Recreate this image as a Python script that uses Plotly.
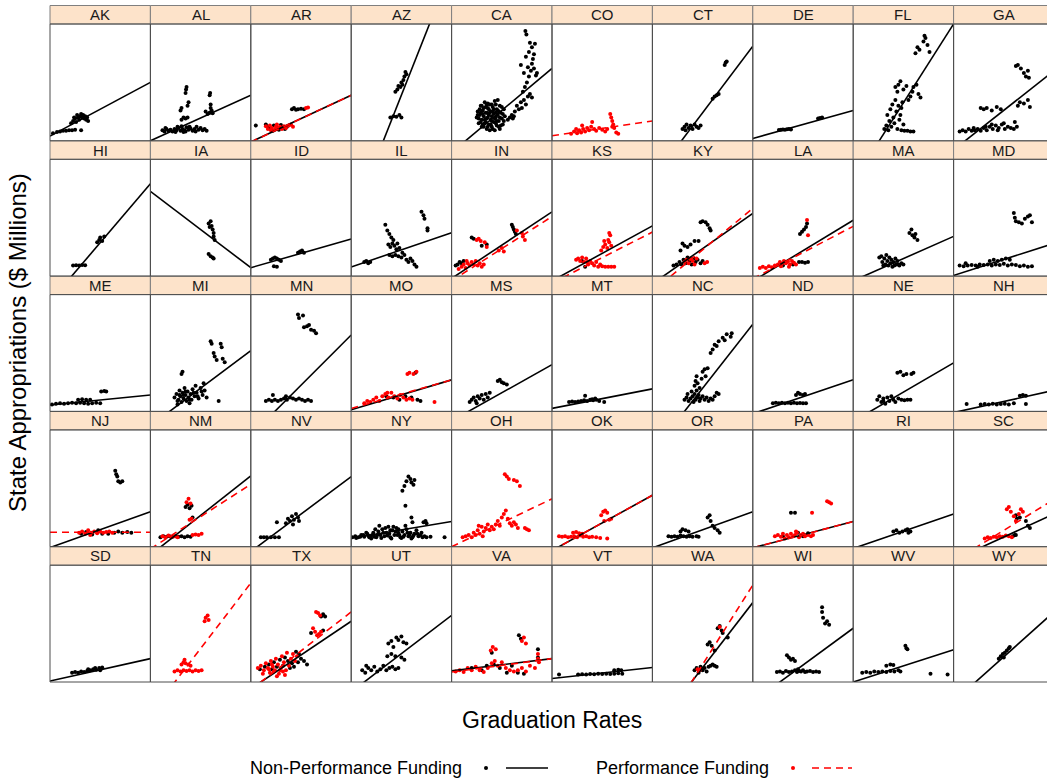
import plotly.graph_objects as go

# ---------------- DATA (normalised panel coordinates) ----------------
states = ["AK","AL","AR","AZ","CA","CO","CT","DE","FL","GA",
          "HI","IA","ID","IL","IN","KS","KY","LA","MA","MD",
          "ME","MI","MN","MO","MS","MT","NC","ND","NE","NH",
          "NJ","NM","NV","NY","OH","OK","OR","PA","RI","SC",
          "SD","TN","TX","UT","VA","VT","WA","WI","WV","WY"]

# fitted lines: (value at left edge, value at right edge) of each panel
black_lines = {
    "AK": (0.04, 0.50), "AL": (0.0, 0.39), "AR": (-0.01, 0.39), "AZ": (-0.696, 1.478),
    "CA": (-0.10, 0.62), "CT": (-0.33, 0.81), "DE": (0.02, 0.26), "FL": (-0.35, 1.0),
    "GA": (-0.078, 0.60), "HI": (-0.218, 0.79), "IA": (0.726, 0.072), "ID": (0.072, 0.317),
    "IL": (0.078, 0.372), "IN": (-0.02, 0.55), "KS": (-0.041, 0.43), "KY": (-0.066, 0.536),
    "LA": (-0.043, 0.478), "MA": (-0.04, 0.34), "MD": (0.006, 0.28), "ME": (0.055, 0.14),
    "MI": (-0.123, 0.52), "MN": (-0.206, 0.654), "MO": (0.014, 0.27), "MS": (-0.081, 0.40),
    "MT": (0.026, 0.193), "NC": (-0.35, 0.746), "ND": (-0.02, 0.27), "NE": (-0.085, 0.415),
    "NH": (-0.01, 0.18), "NJ": (-0.0075, 0.30), "NM": (-0.071, 0.606), "NV": (-0.042, 0.60),
    "NY": (0.072, 0.216), "OK": (-0.033, 0.44), "OR": (-0.01, 0.30), "PA": (-0.01, 0.215),
    "RI": (-0.015, 0.28), "SC": (-0.114, 0.28), "SD": (0.009, 0.20), "TX": (-0.058, 0.52),
    "UT": (-0.085, 0.57), "VA": (0.095, 0.20), "VT": (0.03, 0.124), "WA": (-0.434, 0.68),
    "WI": (-0.17, 0.46), "WV": (0.0, 0.277), "WY": (-0.168, 0.60),
}
red_lines = {
    "AR": (-0.01, 0.39), "CO": (0.043, 0.17), "IN": (-0.04, 0.51), "KS": (-0.06, 0.377),
    "KY": (-0.13, 0.58), "LA": (-0.022, 0.426), "MO": (0.025, 0.27), "NJ": (0.124, 0.124),
    "NM": (-0.019, 0.534), "OH": (0.0, 0.41), "OK": (-0.033, 0.44), "PA": (-0.01, 0.215),
    "SC": (-0.125, 0.405), "TN": (-0.273, 0.847), "TX": (-0.067, 0.60), "VA": (0.085, 0.20),
    "WA": (-0.53, 0.83),
}

black_points = {
    "AK": [(0.03,0.065),(0.07,0.075),(0.1,0.08),(0.13,0.085),(0.16,0.085),(0.19,0.09),(0.22,0.09),(0.25,0.095),(0.31,0.09),
           (0.21,0.15),(0.23,0.17),(0.25,0.19),(0.26,0.16),(0.28,0.2),(0.29,0.18),(0.3,0.21),(0.31,0.23),(0.32,0.2),(0.33,0.22),
           (0.34,0.19),(0.35,0.21),(0.36,0.18),(0.37,0.2),(0.38,0.17),(0.27,0.22),(0.24,0.2)],
    "AL": [(0.12,0.09),(0.14,0.08),(0.16,0.1),(0.18,0.085),(0.2,0.095),(0.22,0.08),(0.24,0.1),(0.26,0.09),(0.28,0.11),(0.3,0.085),
           (0.32,0.1),(0.34,0.09),(0.36,0.115),(0.38,0.095),(0.4,0.105),(0.42,0.085),(0.44,0.1),(0.46,0.12),(0.48,0.095),(0.5,0.11),
           (0.52,0.09),(0.54,0.1),(0.56,0.085),(0.15,0.11),(0.25,0.075),(0.35,0.08),(0.45,0.08),(0.27,0.12),(0.39,0.12),(0.31,0.125),
           (0.33,0.075),(0.31,0.18),(0.33,0.2),(0.35,0.19),(0.37,0.2),(0.3,0.26),(0.31,0.28),(0.37,0.3),(0.38,0.33),(0.35,0.41),
           (0.355,0.44),(0.36,0.46),(0.55,0.25),(0.57,0.23),(0.59,0.24),(0.61,0.26),(0.6,0.28),(0.6,0.31),(0.59,0.39),(0.595,0.41),(0.62,0.235)],
    "AR": [(0.05,0.13),(0.15,0.14),(0.18,0.12),(0.2,0.1),(0.23,0.13),(0.26,0.11),(0.3,0.135),(0.34,0.1),(0.22,0.085),(0.28,0.095),
           (0.41,0.27),(0.43,0.28),(0.45,0.265),(0.47,0.27),(0.5,0.275),(0.53,0.27),(0.36,0.12)],
    "AZ": [(0.39,0.2),(0.42,0.21),(0.45,0.205),(0.48,0.22),(0.5,0.2),(0.44,0.42),(0.46,0.44),(0.47,0.47),(0.49,0.46),(0.5,0.5),
           (0.52,0.52),(0.53,0.55),(0.55,0.57),(0.54,0.59),(0.51,0.48)],
    "CA": [(0.25,0.2),(0.26,0.25),(0.27,0.15),(0.28,0.22),(0.29,0.3),(0.3,0.18),(0.3,0.12),(0.31,0.26),(0.32,0.21),(0.33,0.15),
           (0.33,0.33),(0.34,0.24),(0.35,0.1),(0.35,0.19),(0.36,0.28),(0.37,0.22),(0.37,0.14),(0.38,0.31),(0.39,0.18),(0.39,0.25),
           (0.4,0.12),(0.4,0.21),(0.41,0.29),(0.42,0.16),(0.42,0.23),(0.43,0.09),(0.43,0.34),(0.44,0.2),(0.45,0.27),(0.45,0.13),
           (0.46,0.22),(0.47,0.17),(0.48,0.3),(0.48,0.1),(0.49,0.24),(0.5,0.19),(0.51,0.14),(0.52,0.27),(0.53,0.21),(0.28,0.27),
           (0.32,0.12),(0.36,0.32),(0.41,0.1),(0.44,0.31),(0.47,0.25),(0.29,0.16),(0.34,0.29),(0.38,0.09),(0.46,0.35),(0.5,0.29),
           (0.27,0.19),(0.31,0.23),(0.35,0.24),(0.39,0.14),(0.43,0.19),(0.37,0.27),(0.33,0.18),(0.41,0.25),(0.45,0.17),(0.49,0.13),
           (0.26,0.22),(0.29,0.24),(0.32,0.28),(0.34,0.16),(0.36,0.2),(0.38,0.24),(0.4,0.17),(0.42,0.27),(0.44,0.15),(0.46,0.26),
           (0.48,0.2),(0.3,0.3),(0.35,0.31),(0.4,0.31),(0.44,0.24),(0.31,0.14),(0.36,0.12),(0.47,0.12),(0.52,0.17),(0.51,0.23),
           (0.56,0.18),(0.58,0.2),(0.6,0.22),(0.61,0.19),(0.62,0.21),
           (0.63,0.25),(0.65,0.3),(0.67,0.27),(0.69,0.33),(0.7,0.28),(0.72,0.35),(0.74,0.31),(0.76,0.38),(0.78,0.4),(0.8,0.37),
           (0.71,0.42),(0.73,0.46),(0.75,0.5),(0.77,0.55),(0.79,0.6),(0.72,0.58),(0.76,0.63),(0.8,0.66),(0.82,0.62),(0.84,0.56),
           (0.74,0.72),(0.77,0.76),(0.8,0.8),(0.82,0.74),(0.83,0.83),(0.78,0.84),(0.81,0.7),(0.735,0.94),(0.745,0.91),(0.85,0.58),(0.69,0.65)],
    "CT": [(0.3,0.1),(0.32,0.12),(0.34,0.14),(0.36,0.11),(0.38,0.13),(0.4,0.1),(0.42,0.14),(0.44,0.12),(0.46,0.11),(0.48,0.13),
           (0.33,0.09),(0.6,0.36),(0.62,0.38),(0.64,0.39),(0.66,0.4),(0.72,0.65),(0.73,0.67),(0.74,0.68)],
    "DE": [(0.26,0.093),(0.28,0.095),(0.3,0.097),(0.32,0.095),(0.34,0.098),(0.36,0.1),(0.38,0.097),(0.65,0.19),(0.67,0.195),(0.69,0.2)],
    "FL": [(0.31,0.1),(0.33,0.13),(0.35,0.09),(0.36,0.17),(0.38,0.12),(0.4,0.2),(0.41,0.15),(0.43,0.25),(0.44,0.1),(0.45,0.3),
           (0.46,0.18),(0.47,0.22),(0.48,0.28),(0.49,0.33),(0.5,0.14),(0.34,0.22),(0.37,0.27),(0.39,0.31),(0.42,0.35),(0.44,0.42),
           (0.42,0.46),(0.45,0.48),(0.47,0.51),(0.5,0.44),(0.53,0.47),(0.57,0.38),(0.59,0.42),(0.6,0.46),(0.63,0.48),(0.65,0.4),
           (0.67,0.37),(0.55,0.35),(0.62,0.75),(0.64,0.8),(0.66,0.78),(0.7,0.85),(0.72,0.88),(0.74,0.82),(0.76,0.76),(0.71,0.9),
           (0.48,0.09),(0.51,0.085),(0.54,0.085),(0.57,0.08),(0.6,0.08)],
    "GA": [(0.06,0.08),(0.09,0.09),(0.12,0.08),(0.15,0.1),(0.18,0.085),(0.21,0.09),(0.24,0.1),(0.27,0.085),(0.3,0.11),(0.33,0.09),
           (0.36,0.12),(0.39,0.1),(0.42,0.13),(0.45,0.11),(0.48,0.14),(0.51,0.1),(0.54,0.12),(0.57,0.11),(0.6,0.1),(0.63,0.12),
           (0.2,0.11),(0.32,0.12),(0.44,0.09),(0.38,0.14),(0.5,0.15),(0.27,0.28),(0.3,0.27),(0.33,0.28),(0.38,0.26),(0.43,0.29),
           (0.47,0.27),(0.64,0.3),(0.66,0.33),(0.7,0.32),(0.74,0.35),(0.76,0.29),(0.61,0.16),(0.62,0.64),(0.64,0.65),(0.67,0.62),
           (0.7,0.58),(0.72,0.55),(0.74,0.6),(0.75,0.54)],
    "HI": [(0.23,0.09),(0.26,0.092),(0.29,0.09),(0.32,0.095),(0.35,0.092),(0.47,0.29),(0.49,0.31),(0.5,0.33),(0.52,0.3),(0.54,0.34)],
    "IA": [(0.58,0.45),(0.6,0.47),(0.61,0.43),(0.62,0.4),(0.63,0.37),(0.63,0.34),(0.64,0.31),(0.59,0.42),(0.58,0.19),(0.6,0.17),
           (0.62,0.16),(0.63,0.15)],
    "ID": [(0.2,0.14),(0.22,0.15),(0.24,0.16),(0.26,0.15),(0.28,0.14),(0.3,0.13),(0.23,0.085),(0.26,0.08),(0.47,0.2),(0.49,0.21),
           (0.51,0.22),(0.53,0.2)],
    "IL": [(0.13,0.12),(0.15,0.13),(0.17,0.11),(0.19,0.12),(0.34,0.44),(0.36,0.39),(0.38,0.36),(0.4,0.33),(0.42,0.31),(0.37,0.27),
           (0.39,0.25),(0.41,0.28),(0.43,0.26),(0.45,0.23),(0.46,0.28),(0.48,0.24),(0.38,0.18),(0.41,0.17),(0.44,0.18),(0.47,0.17),
           (0.5,0.16),(0.53,0.18),(0.55,0.14),(0.57,0.12),(0.59,0.15),(0.61,0.13),(0.63,0.1),(0.65,0.08),(0.51,0.2),(0.7,0.55),
           (0.72,0.52),(0.73,0.49),(0.76,0.39),(0.76,0.41)],
    "IN": [(0.04,0.09),(0.06,0.1),(0.08,0.12),(0.1,0.11),(0.2,0.33),(0.22,0.32),(0.3,0.26),(0.35,0.27),(0.6,0.44),(0.61,0.42),
           (0.62,0.4),(0.63,0.38),(0.64,0.36),(0.12,0.13)],
    "KS": [(0.33,0.08),(0.3,0.13)],
    "KY": [(0.21,0.09),(0.24,0.1),(0.27,0.12),(0.29,0.1),(0.31,0.14),(0.33,0.11),(0.35,0.16),(0.37,0.13),(0.39,0.1),(0.41,0.15),
           (0.43,0.12),(0.45,0.14),(0.48,0.11),(0.5,0.13),(0.28,0.22),(0.3,0.28),(0.32,0.26),(0.35,0.25),(0.38,0.27),(0.42,0.3),
           (0.46,0.3),(0.48,0.46),(0.5,0.47),(0.53,0.46),(0.55,0.44),(0.57,0.41),(0.58,0.39)],
    "LA": [(0.46,0.12),(0.49,0.12),(0.52,0.115),(0.55,0.12),(0.47,0.36),(0.49,0.38),(0.51,0.4),(0.53,0.42),(0.54,0.45),(0.3,0.09),(0.4,0.1)],
    "MA": [(0.26,0.16),(0.28,0.17),(0.29,0.12),(0.31,0.15),(0.32,0.1),(0.33,0.18),(0.34,0.13),(0.35,0.09),(0.36,0.16),(0.37,0.11),
           (0.38,0.14),(0.39,0.08),(0.4,0.12),(0.42,0.15),(0.43,0.1),(0.44,0.13),(0.46,0.09),(0.48,0.11),(0.5,0.1),(0.3,0.09),
           (0.41,0.09),(0.45,0.1),(0.56,0.37),(0.58,0.4),(0.59,0.35),(0.61,0.33),(0.62,0.36),(0.64,0.31)],
    "MD": [(0.06,0.09),(0.1,0.085),(0.14,0.09),(0.18,0.095),(0.22,0.09),(0.26,0.1),(0.3,0.095),(0.34,0.1),(0.38,0.09),(0.42,0.1),
           (0.46,0.095),(0.5,0.105),(0.54,0.09),(0.58,0.1),(0.62,0.095),(0.66,0.085),(0.7,0.09),(0.74,0.08),(0.78,0.085),(0.12,0.11),
           (0.24,0.08),(0.36,0.13),(0.4,0.14),(0.44,0.13),(0.48,0.14),(0.52,0.15),(0.56,0.14),(0.6,0.54),(0.61,0.5),(0.62,0.47),
           (0.65,0.46),(0.68,0.45),(0.71,0.49),(0.74,0.51),(0.76,0.52),(0.78,0.46)],
    "ME": [(0.02,0.06),(0.06,0.065),(0.1,0.07),(0.14,0.065),(0.18,0.07),(0.22,0.075),(0.26,0.07),(0.3,0.075),(0.34,0.07),(0.38,0.065),
           (0.42,0.07),(0.46,0.075),(0.5,0.07),(0.28,0.1),(0.32,0.105),(0.36,0.1),(0.4,0.1),(0.51,0.17),(0.54,0.175),(0.56,0.17)],
    "MI": [(0.24,0.12),(0.26,0.15),(0.28,0.1),(0.29,0.18),(0.3,0.13),(0.31,0.08),(0.32,0.16),(0.33,0.11),(0.34,0.2),(0.35,0.14),
           (0.36,0.09),(0.37,0.17),(0.38,0.12),(0.4,0.15),(0.41,0.1),(0.42,0.19),(0.44,0.13),(0.45,0.22),(0.46,0.16),(0.48,0.11),
           (0.5,0.2),(0.52,0.14),(0.53,0.24),(0.54,0.18),(0.56,0.12),(0.27,0.06),(0.39,0.07),(0.31,0.32),(0.32,0.34),(0.6,0.6),
           (0.61,0.58),(0.63,0.5),(0.64,0.47),(0.66,0.44),(0.7,0.58),(0.71,0.55),(0.72,0.45),(0.74,0.42),(0.68,0.09),
           (0.27,0.09),(0.33,0.14),(0.39,0.1),(0.43,0.16),(0.47,0.13),(0.51,0.17),(0.35,0.17),(0.29,0.14)],
    "MN": [(0.15,0.09),(0.18,0.1),(0.21,0.09),(0.24,0.1),(0.27,0.09),(0.3,0.1),(0.33,0.11),(0.36,0.1),(0.39,0.12),(0.42,0.11),
           (0.45,0.1),(0.48,0.11),(0.51,0.1),(0.54,0.09),(0.57,0.1),(0.6,0.09),(0.22,0.14),(0.35,0.13),(0.47,0.83),(0.48,0.8),
           (0.52,0.82),(0.53,0.72),(0.56,0.73),(0.58,0.74),(0.6,0.7),(0.63,0.69),(0.65,0.67)],
    "MO": [(0.35,0.13),(0.42,0.12),(0.48,0.1),(0.54,0.13),(0.6,0.12),(0.66,0.1),(0.69,0.09),(0.64,0.33)],
    "MS": [(0.18,0.08),(0.2,0.1),(0.22,0.12),(0.24,0.09),(0.26,0.13),(0.28,0.11),(0.3,0.14),(0.32,0.1),(0.34,0.15),(0.36,0.12),
           (0.38,0.16),(0.25,0.07),(0.46,0.26),(0.48,0.27),(0.5,0.25),(0.52,0.24),(0.55,0.23)],
    "MT": [(0.17,0.08),(0.2,0.085),(0.23,0.08),(0.26,0.085),(0.29,0.09),(0.32,0.095),(0.35,0.09),(0.38,0.1),(0.41,0.095),(0.44,0.1),
           (0.47,0.09),(0.52,0.08),(0.33,0.135),(0.4,0.105),(0.43,0.11)],
    "NC": [(0.32,0.1),(0.34,0.12),(0.35,0.15),(0.36,0.09),(0.38,0.11),(0.39,0.17),(0.4,0.13),(0.41,0.08),(0.42,0.15),(0.43,0.1),
           (0.44,0.18),(0.45,0.12),(0.46,0.14),(0.47,0.09),(0.48,0.11),(0.5,0.13),(0.52,0.1),(0.54,0.12),(0.56,0.09),(0.58,0.11),
           (0.6,0.1),(0.62,0.13),(0.64,0.16),(0.66,0.15),(0.42,0.22),(0.43,0.26),(0.44,0.3),(0.45,0.24),(0.47,0.2),(0.49,0.28),
           (0.5,0.34),(0.52,0.36),(0.53,0.3),(0.55,0.37),(0.58,0.5),(0.6,0.53),(0.62,0.57),(0.64,0.56),(0.66,0.6),(0.7,0.63),
           (0.72,0.61),(0.74,0.66),(0.78,0.64),(0.79,0.67)],
    "ND": [(0.2,0.07),(0.23,0.075),(0.26,0.07),(0.29,0.075),(0.32,0.07),(0.35,0.075),(0.38,0.07),(0.41,0.075),(0.44,0.07),(0.47,0.072),
           (0.5,0.07),(0.53,0.07),(0.43,0.14),(0.45,0.16),(0.47,0.15),(0.5,0.14),(0.52,0.15)],
    "NE": [(0.24,0.1),(0.26,0.13),(0.28,0.08),(0.3,0.11),(0.32,0.065),(0.34,0.12),(0.36,0.09),(0.38,0.13),(0.4,0.1),(0.42,0.08),
           (0.45,0.11),(0.48,0.1),(0.51,0.095),(0.54,0.1),(0.57,0.1),(0.3,0.09),(0.44,0.33),(0.47,0.34),(0.5,0.31),(0.53,0.32),
           (0.58,0.32),(0.6,0.33)],
    "NH": [(0.13,0.063),(0.27,0.06),(0.31,0.063),(0.35,0.06),(0.39,0.065),(0.43,0.06),(0.47,0.063),(0.51,0.065),(0.55,0.06),(0.6,0.07),
           (0.66,0.135),(0.69,0.14),(0.72,0.135),(0.72,0.063)],
    "NJ": [(0.31,0.11),(0.36,0.125),(0.42,0.105),(0.48,0.14),(0.52,0.11),(0.58,0.11),(0.64,0.12),(0.68,0.13),(0.72,0.12),(0.77,0.125),
           (0.81,0.12),(0.65,0.65),(0.66,0.62),(0.67,0.6),(0.68,0.56),(0.7,0.55),(0.72,0.56)],
    "NM": [(0.1,0.08),(0.13,0.09),(0.16,0.085),(0.19,0.09),(0.22,0.085),(0.25,0.09),(0.28,0.085),(0.31,0.09),(0.34,0.08),(0.37,0.09),
           (0.4,0.085),(0.35,0.34),(0.37,0.36),(0.39,0.33),(0.41,0.35),(0.42,0.25)],
    "NV": [(0.1,0.08),(0.13,0.08),(0.16,0.08),(0.2,0.08),(0.24,0.08),(0.28,0.08),(0.26,0.21),(0.35,0.2),(0.37,0.24),(0.39,0.22),
           (0.41,0.26),(0.43,0.23),(0.45,0.28),(0.47,0.25),(0.48,0.22),(0.42,0.19)],
    "NY": [(0.01,0.08),(0.04,0.09),(0.07,0.08),(0.1,0.1),(0.13,0.085),(0.16,0.11),(0.19,0.09),(0.22,0.12),(0.25,0.08),(0.27,0.13),
           (0.29,0.1),(0.31,0.15),(0.33,0.09),(0.35,0.12),(0.37,0.17),(0.39,0.08),(0.41,0.14),(0.43,0.1),(0.45,0.16),(0.47,0.12),
           (0.49,0.08),(0.51,0.13),(0.53,0.1),(0.55,0.15),(0.57,0.09),(0.59,0.12),(0.61,0.08),(0.63,0.11),(0.65,0.14),(0.67,0.09),
           (0.69,0.1),(0.71,0.08),(0.73,0.09),(0.75,0.08),(0.79,0.085),(0.2,0.07),(0.3,0.075),(0.4,0.07),(0.5,0.075),(0.6,0.07),
           (0.24,0.15),(0.34,0.16),(0.44,0.13),(0.54,0.18),(0.28,0.18),(0.42,0.17),(0.15,0.12),(0.36,0.095),(0.46,0.1),(0.56,0.12),
           (0.05,0.075),(0.09,0.085),(0.12,0.1),(0.18,0.08),(0.21,0.1),(0.23,0.085),(0.26,0.1),(0.32,0.12),(0.38,0.11),(0.48,0.1),
           (0.52,0.085),(0.58,0.1),(0.62,0.095),(0.66,0.11),(0.7,0.12),(0.17,0.095),(0.39,0.14),(0.47,0.15),
           (0.93,0.08),(0.51,0.48),(0.53,0.52),(0.55,0.56),(0.57,0.6),(0.59,0.58),(0.6,0.55),(0.62,0.53),(0.63,0.57),(0.54,0.35),
           (0.6,0.25),(0.61,0.21),(0.72,0.21),(0.74,0.22),(0.75,0.2)],
    "OR": [(0.16,0.09),(0.19,0.085),(0.22,0.09),(0.25,0.085),(0.28,0.095),(0.31,0.09),(0.34,0.085),(0.37,0.09),(0.4,0.085),(0.44,0.09),
           (0.46,0.085),(0.28,0.13),(0.3,0.15),(0.33,0.14),(0.36,0.13),(0.55,0.25),(0.57,0.27),(0.58,0.22),(0.6,0.18),(0.62,0.16),
           (0.65,0.14),(0.67,0.12)],
    "PA": [(0.38,0.29),(0.42,0.29),(0.45,0.12),(0.5,0.09),(0.55,0.115),(0.3,0.09)],
    "RI": [(0.4,0.13),(0.43,0.14),(0.46,0.12),(0.49,0.13),(0.52,0.14),(0.54,0.15),(0.55,0.12),(0.57,0.13)],
    "SC": [(0.59,0.09),(0.61,0.1),(0.62,0.27),(0.63,0.24),(0.66,0.25),(0.72,0.22),(0.74,0.18),(0.76,0.16),(0.62,0.1)],
    "SD": [(0.22,0.08),(0.25,0.085),(0.28,0.08),(0.31,0.09),(0.34,0.085),(0.37,0.095),(0.4,0.1),(0.43,0.11),(0.46,0.105),(0.49,0.12),
           (0.52,0.125),(0.38,0.11),(0.45,0.12),(0.5,0.1)],
    "TX": [(0.09,0.11),(0.14,0.13),(0.18,0.15),(0.21,0.11),(0.23,0.17),(0.26,0.13),(0.29,0.19),(0.32,0.14),(0.34,0.21),(0.37,0.18),
           (0.39,0.12),(0.41,0.16),(0.43,0.13),(0.47,0.17),(0.5,0.2),(0.53,0.18),(0.56,0.15),(0.6,0.42),(0.72,0.44),(0.74,0.56),
           (0.72,0.58),(0.7,0.56),(0.45,0.26),(0.48,0.24)],
    "UT": [(0.11,0.1),(0.14,0.08),(0.17,0.12),(0.2,0.1),(0.23,0.13),(0.26,0.09),(0.29,0.11),(0.32,0.14),(0.35,0.1),(0.38,0.12),
           (0.41,0.13),(0.44,0.11),(0.47,0.12),(0.15,0.14),(0.36,0.22),(0.4,0.24),(0.44,0.22),(0.5,0.21),(0.53,0.19),(0.37,0.33),
           (0.4,0.35),(0.45,0.38),(0.47,0.36),(0.5,0.39),(0.52,0.34),(0.55,0.33),(0.42,0.3)],
    "VA": [(0.2,0.12),(0.3,0.1),(0.35,0.14),(0.42,0.15),(0.48,0.12),(0.55,0.08),(0.6,0.14),(0.66,0.08),(0.72,0.07),(0.4,0.25),
           (0.67,0.4),(0.69,0.37),(0.86,0.28),(0.86,0.21)],
    "VT": [(0.07,0.065),(0.26,0.065),(0.3,0.067),(0.34,0.065),(0.38,0.068),(0.42,0.066),(0.46,0.07),(0.5,0.068),(0.54,0.07),(0.58,0.068),
           (0.62,0.07),(0.66,0.075),(0.7,0.07),(0.62,0.1),(0.66,0.105),(0.69,0.1)],
    "WA": [(0.42,0.1),(0.44,0.12),(0.46,0.08),(0.48,0.13),(0.5,0.1),(0.52,0.12),(0.54,0.09),(0.56,0.13),(0.58,0.14),(0.6,0.15),
           (0.62,0.14),(0.64,0.13),(0.55,0.32),(0.57,0.34),(0.59,0.31),(0.62,0.27),(0.65,0.46),(0.67,0.48),(0.69,0.44),(0.7,0.42),(0.75,0.38)],
    "WI": [(0.24,0.085),(0.27,0.09),(0.3,0.08),(0.33,0.095),(0.36,0.085),(0.39,0.09),(0.42,0.1),(0.44,0.085),(0.46,0.095),(0.48,0.09),
           (0.5,0.1),(0.52,0.085),(0.54,0.09),(0.57,0.095),(0.6,0.085),(0.63,0.09),(0.66,0.085),(0.45,0.11),(0.34,0.23),(0.36,0.21),
           (0.38,0.19),(0.4,0.2),(0.42,0.18),(0.69,0.64),(0.69,0.6),(0.7,0.55),(0.72,0.5),(0.74,0.52),(0.76,0.49)],
    "WV": [(0.09,0.08),(0.13,0.085),(0.17,0.08),(0.21,0.09),(0.25,0.085),(0.29,0.09),(0.33,0.085),(0.37,0.095),(0.41,0.09),(0.45,0.1),
           (0.47,0.09),(0.33,0.14),(0.37,0.15),(0.4,0.145),(0.52,0.31),(0.53,0.29),(0.54,0.28),(0.77,0.07),(0.94,0.065)],
    "WY": [(0.45,0.2),(0.47,0.22),(0.49,0.24),(0.51,0.25),(0.53,0.27),(0.55,0.29),(0.56,0.3),(0.5,0.21)],
}

red_points = {
    "AR": [(0.15,0.125),(0.17,0.1),(0.19,0.13),(0.21,0.11),(0.24,0.095),(0.25,0.12),(0.27,0.105),(0.29,0.12),(0.31,0.1),(0.33,0.125),
           (0.35,0.11),(0.38,0.13),(0.4,0.14),(0.42,0.12),(0.26,0.14),(0.2,0.09),(0.55,0.28),(0.57,0.285)],
    "CO": [(0.19,0.06),(0.22,0.08),(0.25,0.065),(0.27,0.09),(0.29,0.07),(0.31,0.1),(0.33,0.08),(0.35,0.11),(0.37,0.09),(0.39,0.12),
           (0.4,0.16),(0.42,0.1),(0.44,0.085),(0.47,0.11),(0.5,0.095),(0.53,0.08),(0.55,0.1),(0.58,0.23),(0.59,0.2),(0.6,0.17),
           (0.61,0.14),(0.6,0.12),(0.62,0.11),(0.64,0.07),(0.66,0.06),(0.24,0.1),(0.3,0.13)],
    "IN": [(0.07,0.06),(0.1,0.08),(0.12,0.1),(0.14,0.07),(0.16,0.11),(0.18,0.09),(0.2,0.12),(0.22,0.1),(0.24,0.13),(0.26,0.09),
           (0.28,0.11),(0.3,0.08),(0.32,0.1),(0.15,0.13),(0.25,0.31),(0.27,0.32),(0.29,0.3),(0.33,0.29),(0.35,0.25),(0.47,0.22),
           (0.5,0.24),(0.52,0.21),(0.65,0.39),(0.7,0.37),(0.71,0.34),(0.73,0.31)],
    "KS": [(0.24,0.14),(0.26,0.15),(0.28,0.13),(0.3,0.16),(0.32,0.12),(0.34,0.15),(0.36,0.1),(0.38,0.13),(0.4,0.11),(0.42,0.09),
           (0.44,0.12),(0.46,0.08),(0.48,0.1),(0.5,0.085),(0.53,0.08),(0.56,0.08),(0.59,0.08),(0.62,0.08),(0.35,0.12),(0.49,0.22),
           (0.51,0.25),(0.53,0.27),(0.55,0.24),(0.57,0.29),(0.59,0.26),(0.52,0.3),(0.56,0.31),(0.57,0.37),(0.58,0.35)],
    "KY": [(0.32,0.12),(0.34,0.14),(0.36,0.11),(0.38,0.15),(0.4,0.13),(0.42,0.1),(0.44,0.15),(0.545,0.12),(0.52,0.11)],
    "LA": [(0.07,0.07),(0.1,0.08),(0.13,0.07),(0.16,0.085),(0.19,0.075),(0.22,0.09),(0.25,0.1),(0.27,0.12),(0.29,0.105),(0.31,0.13),
           (0.33,0.11),(0.35,0.125),(0.37,0.1),(0.39,0.13),(0.41,0.115),(0.43,0.1),(0.28,0.085),(0.36,0.08),(0.55,0.35),(0.54,0.48)],
    "MO": [(0.13,0.07),(0.16,0.09),(0.19,0.08),(0.22,0.1),(0.25,0.12),(0.28,0.09),(0.31,0.13),(0.34,0.15),(0.37,0.12),(0.4,0.16),
           (0.43,0.13),(0.46,0.11),(0.49,0.14),(0.52,0.12),(0.55,0.1),(0.58,0.11),(0.61,0.1),(0.36,0.16),(0.56,0.32),(0.58,0.33),
           (0.62,0.32),(0.65,0.34),(0.83,0.08)],
    "NJ": [(0.29,0.12),(0.32,0.13),(0.35,0.11),(0.38,0.14),(0.41,0.12),(0.44,0.13),(0.47,0.115),(0.5,0.13),(0.53,0.12),(0.56,0.125),
           (0.59,0.13),(0.62,0.12),(0.4,0.1)],
    "NM": [(0.12,0.09),(0.15,0.08),(0.18,0.095),(0.21,0.08),(0.24,0.09),(0.27,0.08),(0.42,0.1),(0.45,0.105),(0.48,0.1),(0.51,0.11),
           (0.36,0.38),(0.38,0.41),(0.4,0.37),(0.41,0.24),(0.39,0.23)],
    "OH": [(0.11,0.08),(0.14,0.09),(0.17,0.1),(0.2,0.08),(0.22,0.12),(0.24,0.1),(0.26,0.14),(0.28,0.11),(0.3,0.17),(0.32,0.13),
           (0.34,0.16),(0.36,0.19),(0.38,0.14),(0.27,0.18),(0.31,0.09),(0.4,0.17),(0.42,0.15),(0.44,0.19),(0.46,0.22),(0.48,0.18),
           (0.5,0.25),(0.52,0.28),(0.54,0.31),(0.56,0.24),(0.58,0.2),(0.6,0.18),(0.62,0.21),(0.64,0.19),(0.66,0.16),(0.53,0.62),
           (0.55,0.6),(0.57,0.58),(0.62,0.57),(0.65,0.56),(0.68,0.52),(0.73,0.16),(0.75,0.15),(0.77,0.14)],
    "OK": [(0.07,0.09),(0.1,0.085),(0.13,0.09),(0.16,0.08),(0.19,0.085),(0.22,0.09),(0.25,0.08),(0.28,0.095),(0.31,0.085),(0.34,0.09),
           (0.37,0.08),(0.4,0.085),(0.44,0.08),(0.48,0.075),(0.55,0.07),(0.21,0.12),(0.24,0.125),(0.27,0.115),(0.3,0.11),(0.49,0.27),
           (0.51,0.3),(0.53,0.31),(0.55,0.29),(0.57,0.23),(0.59,0.24),(0.52,0.22)],
    "PA": [(0.22,0.09),(0.25,0.1),(0.28,0.085),(0.3,0.11),(0.32,0.07),(0.34,0.1),(0.36,0.08),(0.38,0.11),(0.4,0.09),(0.42,0.1),
           (0.44,0.12),(0.46,0.08),(0.48,0.1),(0.5,0.11),(0.52,0.09),(0.55,0.1),(0.58,0.09),(0.6,0.1),(0.59,0.29),(0.74,0.39),
           (0.76,0.38),(0.78,0.37),(0.43,0.13)],
    "SC": [(0.31,0.07),(0.34,0.08),(0.37,0.075),(0.4,0.085),(0.43,0.08),(0.46,0.09),(0.49,0.085),(0.52,0.095),(0.55,0.09),(0.58,0.08),
           (0.53,0.32),(0.55,0.34),(0.57,0.3),(0.6,0.26),(0.62,0.22),(0.65,0.28),(0.67,0.32),(0.69,0.3)],
    "TN": [(0.24,0.09),(0.27,0.1),(0.3,0.09),(0.33,0.1),(0.36,0.095),(0.39,0.1),(0.42,0.09),(0.45,0.1),(0.48,0.095),(0.51,0.1),
           (0.31,0.15),(0.33,0.17),(0.35,0.16),(0.38,0.15),(0.4,0.14),(0.34,0.19),(0.54,0.52),(0.55,0.55),(0.57,0.57),(0.58,0.53)],
    "TX": [(0.07,0.12),(0.1,0.14),(0.13,0.1),(0.15,0.16),(0.17,0.12),(0.19,0.08),(0.2,0.18),(0.22,0.13),(0.24,0.1),(0.25,0.2),
           (0.27,0.15),(0.28,0.07),(0.3,0.12),(0.31,0.22),(0.33,0.17),(0.35,0.1),(0.36,0.25),(0.38,0.14),(0.4,0.2),(0.42,0.24),
           (0.44,0.18),(0.46,0.22),(0.12,0.07),(0.26,0.05),(0.34,0.06),(0.18,0.11),(0.23,0.09),(0.29,0.1),(0.32,0.09),(0.21,0.15),
           (0.62,0.46),(0.64,0.43),(0.66,0.4),(0.68,0.41),(0.7,0.43),(0.65,0.6),(0.67,0.59),(0.69,0.57)],
    "VA": [(0.04,0.09),(0.08,0.1),(0.12,0.085),(0.16,0.12),(0.2,0.1),(0.24,0.13),(0.28,0.1),(0.32,0.085),(0.36,0.12),(0.4,0.16),
           (0.43,0.18),(0.46,0.14),(0.5,0.17),(0.54,0.12),(0.58,0.1),(0.62,0.09),(0.66,0.1),(0.7,0.12),(0.74,0.09),(0.78,0.14),
           (0.83,0.12),(0.87,0.17),(0.39,0.27),(0.41,0.3),(0.44,0.28),(0.7,0.35),(0.72,0.38),(0.74,0.33),(0.86,0.2),(0.86,0.24)],
    "WA": [(0.45,0.11),(0.47,0.1),(0.67,0.47)],
}

# ---------------- LAYOUT / STYLE ----------------
W, H = 1047, 781
COL0, COLW = 50.0, 100.4
ROW0, ROWH, STRIPH = 5.5, 135.3, 18.5
STRIP_FILL = "#FDE3CA"
FONT = "Liberation Sans, Arial, sans-serif"
MSIZE = 4

fig = go.Figure()
layout = {}
shapes, annotations = [], []

for i, st in enumerate(states):
    r, c = divmod(i, 10)
    left = COL0 + c * COLW
    full_right = left + COLW
    right = min(full_right, W)
    top = ROW0 + r * ROWH
    sb = top + STRIPH
    bottom = top + ROWH
    suf = "" if i == 0 else str(i + 1)
    layout["xaxis" + suf] = dict(domain=[left / W, right / W], range=[0, (right - left) / COLW],
                                 visible=False, fixedrange=True, anchor="y" + suf)
    layout["yaxis" + suf] = dict(domain=[1 - bottom / H, 1 - sb / H], range=[0, 1],
                                 visible=False, fixedrange=True, anchor="x" + suf)
    xa, ya = "x" + suf, "y" + suf

    pts = black_points.get(st, [])
    if pts:
        fig.add_trace(go.Scatter(x=[p[0] for p in pts], y=[p[1] for p in pts], mode="markers",
                                 marker=dict(color="black", size=MSIZE), xaxis=xa, yaxis=ya,
                                 showlegend=False, hoverinfo="skip"))
    pts = red_points.get(st, [])
    if pts:
        fig.add_trace(go.Scatter(x=[p[0] for p in pts], y=[p[1] for p in pts], mode="markers",
                                 marker=dict(color="#FF0000", size=MSIZE), xaxis=xa, yaxis=ya,
                                 showlegend=False, hoverinfo="skip"))
    if st in black_lines:
        y0, y1 = black_lines[st]
        fig.add_trace(go.Scatter(x=[0, 1], y=[y0, y1], mode="lines",
                                 line=dict(color="black", width=1.6), xaxis=xa, yaxis=ya,
                                 showlegend=False, hoverinfo="skip"))
    if st in red_lines:
        y0, y1 = red_lines[st]
        fig.add_trace(go.Scatter(x=[0, 1], y=[y0, y1], mode="lines",
                                 line=dict(color="#FF0000", width=1.6, dash="7px,5px"), xaxis=xa, yaxis=ya,
                                 showlegend=False, hoverinfo="skip"))

    # strip
    shapes.append(dict(type="rect", xref="paper", yref="paper", x0=left / W, x1=full_right / W,
                       y0=1 - sb / H, y1=1 - top / H, fillcolor=STRIP_FILL,
                       line=dict(color="#7f7f7f", width=1), layer="below"))
    # panel border
    shapes.append(dict(type="rect", xref="paper", yref="paper", x0=left / W, x1=full_right / W,
                       y0=1 - bottom / H, y1=1 - sb / H, line=dict(color="#4d4d4d", width=1)))
    annotations.append(dict(text=st, x=(left + COLW / 2) / W, y=1 - (top + STRIPH / 2) / H,
                            xref="paper", yref="paper", showarrow=False, xanchor="center", yanchor="middle",
                            font=dict(family=FONT, size=15, color="#1a1a1a")))

# axis titles
annotations.append(dict(text="Graduation Rates", x=552 / W, y=1 - 720 / H, xref="paper", yref="paper",
                        showarrow=False, xanchor="center", yanchor="middle",
                        font=dict(family=FONT, size=23, color="black")))
annotations.append(dict(text="State Appropriations ($ Millions)", x=18 / W, y=1 - 343 / H, xref="paper",
                        yref="paper", showarrow=False, xanchor="center", yanchor="middle", textangle=-90,
                        font=dict(family=FONT, size=24, color="black")))

# legend (manual)
LEG_Y = 768
annotations.append(dict(text="Non-Performance Funding", x=248 / W, y=1 - LEG_Y / H, xref="paper", yref="paper",
                        showarrow=False, xanchor="left", yanchor="middle",
                        font=dict(family=FONT, size=18, color="black")))
annotations.append(dict(text="Performance Funding", x=594 / W, y=1 - LEG_Y / H, xref="paper", yref="paper",
                        showarrow=False, xanchor="left", yanchor="middle",
                        font=dict(family=FONT, size=18, color="black")))
shapes.append(dict(type="circle", xref="paper", yref="paper", x0=484 / W, x1=488 / W,
                   y0=1 - (LEG_Y + 2) / H, y1=1 - (LEG_Y - 2) / H, fillcolor="black", line=dict(width=0)))
shapes.append(dict(type="line", xref="paper", yref="paper", x0=506 / W, x1=548 / W,
                   y0=1 - LEG_Y / H, y1=1 - LEG_Y / H, line=dict(color="black", width=1.6)))
shapes.append(dict(type="circle", xref="paper", yref="paper", x0=791 / W, x1=795 / W,
                   y0=1 - (LEG_Y + 2) / H, y1=1 - (LEG_Y - 2) / H, fillcolor="#FF0000", line=dict(width=0)))
shapes.append(dict(type="line", xref="paper", yref="paper", x0=812 / W, x1=852 / W,
                   y0=1 - LEG_Y / H, y1=1 - LEG_Y / H, line=dict(color="#FF0000", width=1.6, dash="7px,5px")))

fig.update_layout(width=W, height=H, autosize=False, margin=dict(l=0, r=0, t=0, b=0),
                  paper_bgcolor="white", plot_bgcolor="white", shapes=shapes, annotations=annotations,
                  showlegend=False, **layout)

fig.write_html("out.html", config={"displayModeBar": False})

# remove the default page margin so the figure sits at the window's top-left corner
with open("out.html", "r", encoding="utf-8") as f:
    html = f.read()
html = html.replace("<head>", "<head><style>html,body{margin:0;padding:0;overflow:hidden;}</style>", 1)
with open("out.html", "w", encoding="utf-8") as f:
    f.write(html)
